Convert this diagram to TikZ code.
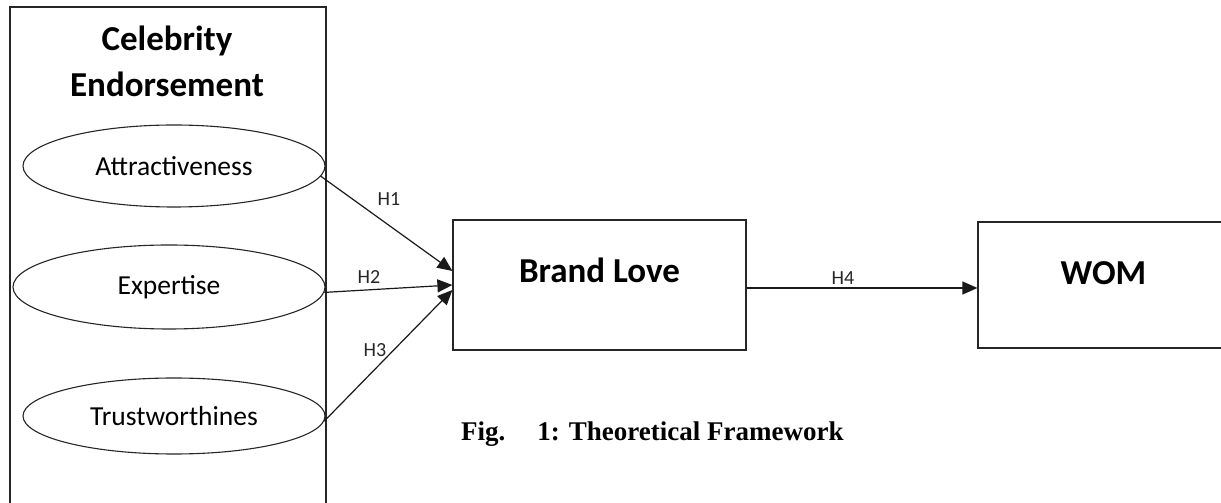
\documentclass[tikz,border=0pt]{standalone}
\usepackage{fontspec}
\setmainfont{Carlito}
\newfontfamily\capfont{Liberation Serif}
\usetikzlibrary{shapes.geometric,arrows.meta}
\tikzset{
  dim/.style={draw=black!85,ellipse,inner sep=0pt,line width=1.1pt,
    font=\fontsize{27.5}{32}\selectfont},
  varbox/.style={draw=black!85,rectangle,inner sep=0pt,line width=1.2pt,
    font=\bfseries\fontsize{35}{42}\selectfont},
  hyp/.style={inner sep=0pt,text=black!85,font=\fontsize{20}{24}\selectfont},
  link/.style={draw=black!90,line width=1.2pt,-{Triangle[length=15pt,width=13pt]}}
}
\begin{document}
\begin{tikzpicture}[x=1pt,y=1pt]
  \useasboundingbox (0,0) rectangle (1221,503);
  \fill[white] (0,0) rectangle (1221,503);
  % construct block
  \node[draw=black!85,line width=1.2pt,minimum width=316pt,minimum height=506pt,inner sep=0pt] (frame) at (168,243) {};
  \node[anchor=base,font=\bfseries\fontsize{35}{42}\selectfont] (celeb) at (167,452) {Celebrity};
  \node[anchor=base,font=\bfseries\fontsize{35}{42}\selectfont] (endors) at (167,406) {Endorsement};
  \node[dim,minimum width=302pt,minimum height=82pt] (attr) at (174,337) {Attractiveness};
  \node[dim,minimum width=312pt,minimum height=84pt] (expert) at (169,216) {Expertise};
  \node[dim,minimum width=302pt,minimum height=76pt] (trust) at (174,87) {Trustworthines};
  % outcome boxes
  \node[varbox,minimum width=293pt,minimum height=130pt,text height=24pt,text depth=28pt] (brand) at (599.5,218) {Brand Love};
  \node[varbox,minimum width=251pt,minimum height=126pt,text height=24pt,text depth=24pt] (wom) at (1103.5,218) {WOM};
  % hypotheses
  \draw[link] (attr.-4) -- ([yshift=14pt]brand.west);
  \draw[link] (expert.-2) -- (brand.west);
  \draw[link] (trust.-2) -- ([yshift=-5pt]brand.west);
  \draw[link] ([yshift=-3pt]brand.east) -- ([yshift=-3pt]wom.west);
  \node[hyp] (h1) at (389,304) {H1};
  \node[hyp] (h2) at (369,226) {H2};
  \node[hyp] (h3) at (375,153) {H3};
  \node[hyp] (h4) at (843,225) {H4};
  \node[anchor=base west,inner sep=0pt,font=\capfont\bfseries\fontsize{27}{31}\selectfont] (caption) at (461,62) {Fig.\hspace{32pt}1: Theoretical Framework};
\end{tikzpicture}
\end{document}
